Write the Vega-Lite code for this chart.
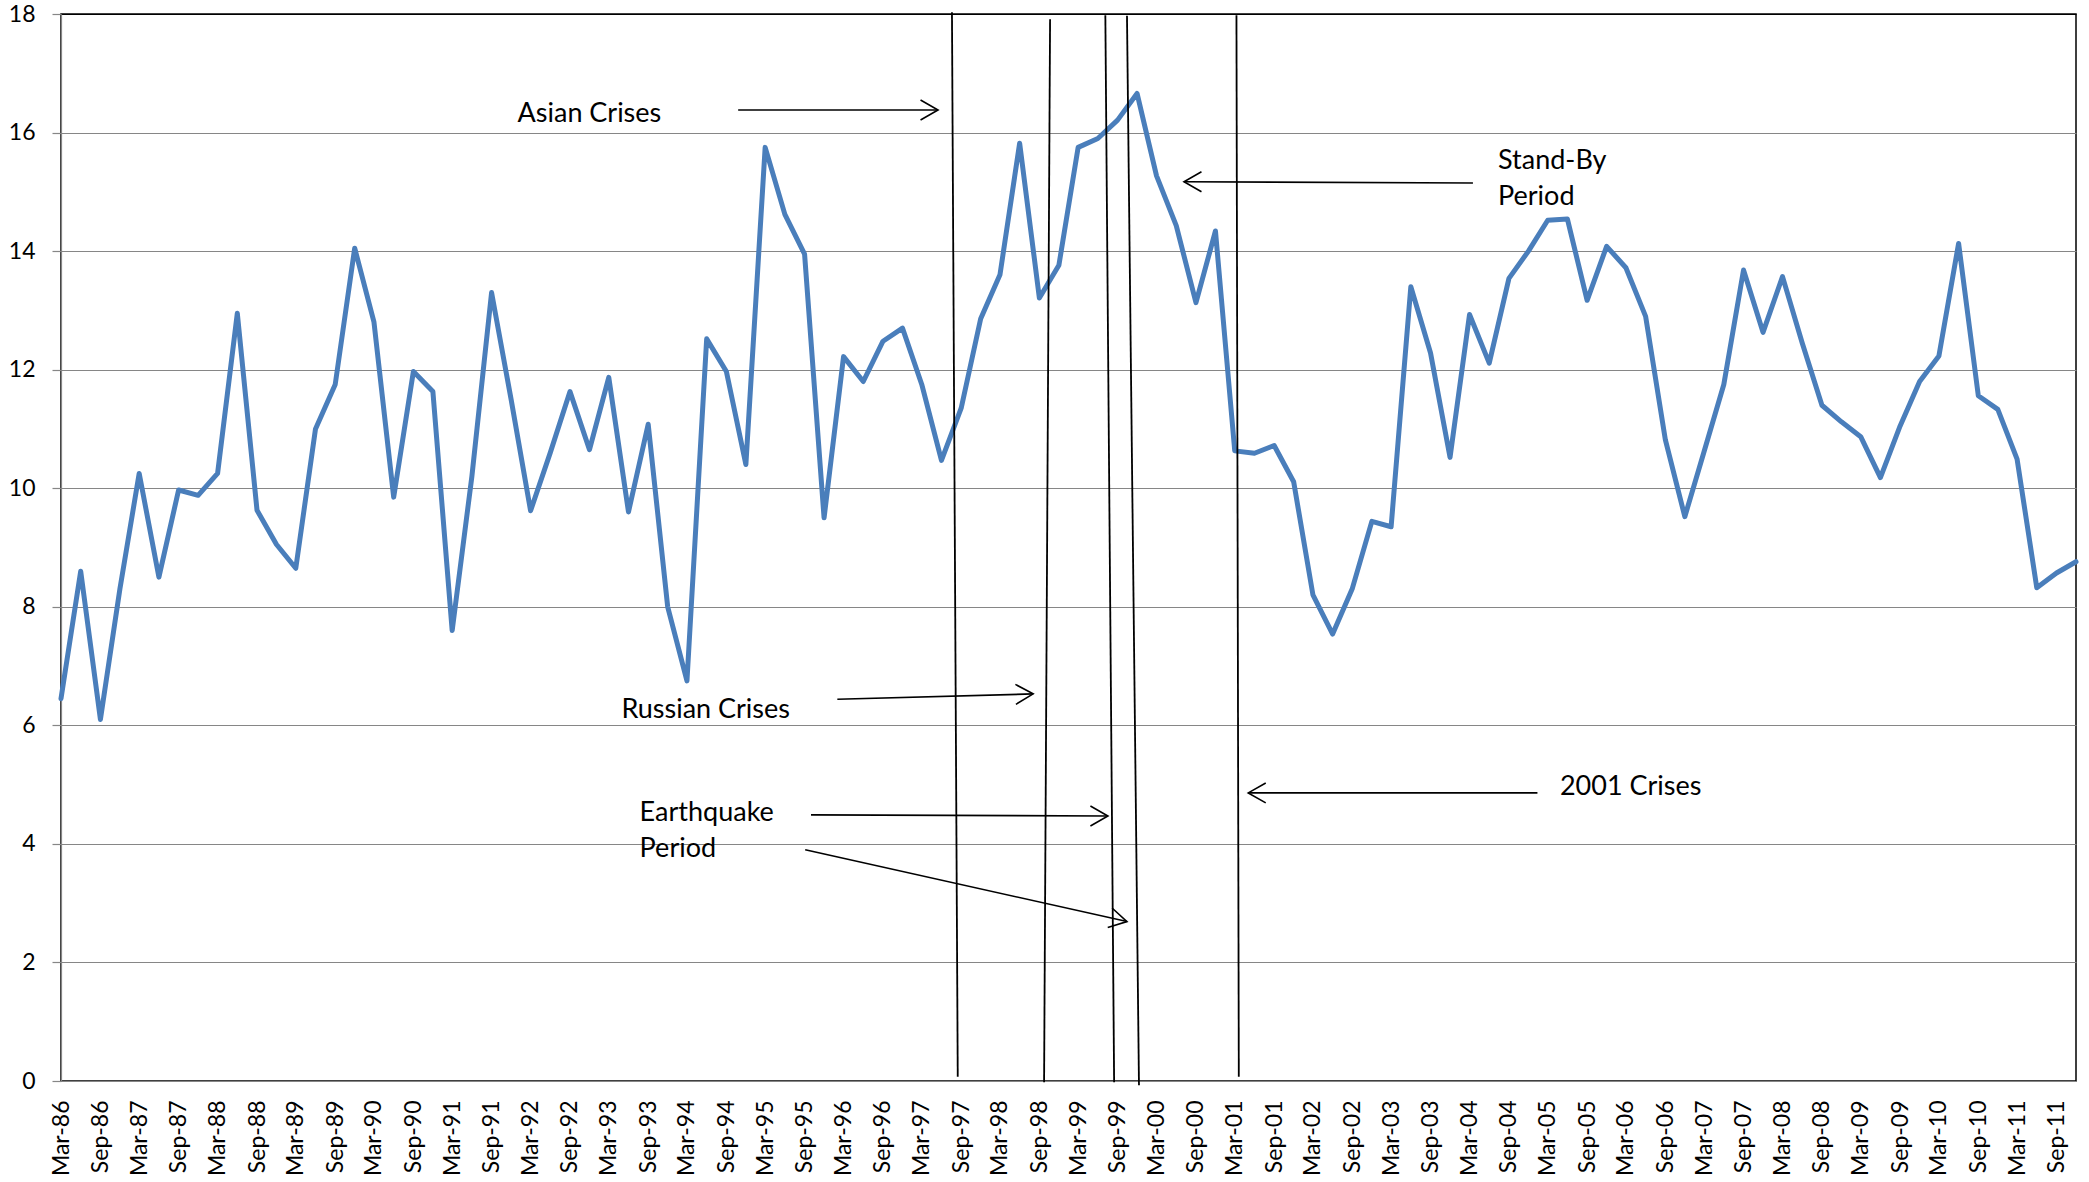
{
  "$schema": "https://vega.github.io/schema/vega-lite/v6.json",
  "width": 2015,
  "height": 1067,
  "autosize": "none",
  "padding": {"left": 61, "top": 14, "right": 13, "bottom": 101},
  "background": "white",
  "config": {
    "font": "Lato",
    "view": {"stroke": "black", "strokeWidth": 1.5},
    "axis": {"labelOverlap": false, "labelFlush": false, "labelBound": false, "labelColor": "black", "labelFontSize": 23, "domainColor": "#868686", "domainWidth": 1.2},
    "axisX": {"labelAngle": -90, "labelAlign": "right", "labelBaseline": "middle", "labelPadding": 19, "ticks": false, "tickSize": 0, "grid": false},
    "axisY": {"labelPadding": 17, "tickSize": 9, "tickColor": "#868686", "tickWidth": 1.2, "grid": true, "gridWidth": 1.2, "gridOpacity": 1}
  },
  "datasets": {
    "series": [
      {"date": "1986-03-01", "value": 6.45}, {"date": "1986-06-01", "value": 8.6}, {"date": "1986-09-01", "value": 6.1}, {"date": "1986-12-01", "value": 8.3},
      {"date": "1987-03-01", "value": 10.25}, {"date": "1987-06-01", "value": 8.5}, {"date": "1987-09-01", "value": 9.97}, {"date": "1987-12-01", "value": 9.88},
      {"date": "1988-03-01", "value": 10.25}, {"date": "1988-06-01", "value": 12.95}, {"date": "1988-09-01", "value": 9.63}, {"date": "1988-12-01", "value": 9.05},
      {"date": "1989-03-01", "value": 8.65}, {"date": "1989-06-01", "value": 11.0}, {"date": "1989-09-01", "value": 11.75}, {"date": "1989-12-01", "value": 14.05},
      {"date": "1990-03-01", "value": 12.8}, {"date": "1990-06-01", "value": 9.85}, {"date": "1990-09-01", "value": 11.97}, {"date": "1990-12-01", "value": 11.63},
      {"date": "1991-03-01", "value": 7.6}, {"date": "1991-06-01", "value": 10.2}, {"date": "1991-09-01", "value": 13.3}, {"date": "1991-12-01", "value": 11.5},
      {"date": "1992-03-01", "value": 9.62}, {"date": "1992-06-01", "value": 10.6}, {"date": "1992-09-01", "value": 11.63}, {"date": "1992-12-01", "value": 10.65},
      {"date": "1993-03-01", "value": 11.87}, {"date": "1993-06-01", "value": 9.6}, {"date": "1993-09-01", "value": 11.08}, {"date": "1993-12-01", "value": 8.0},
      {"date": "1994-03-01", "value": 6.75}, {"date": "1994-06-01", "value": 12.52}, {"date": "1994-09-01", "value": 11.97}, {"date": "1994-12-01", "value": 10.4},
      {"date": "1995-03-01", "value": 15.75}, {"date": "1995-06-01", "value": 14.62}, {"date": "1995-09-01", "value": 13.95}, {"date": "1995-12-01", "value": 9.5},
      {"date": "1996-03-01", "value": 12.22}, {"date": "1996-06-01", "value": 11.8}, {"date": "1996-09-01", "value": 12.48}, {"date": "1996-12-01", "value": 12.7},
      {"date": "1997-03-01", "value": 11.75}, {"date": "1997-06-01", "value": 10.47}, {"date": "1997-09-01", "value": 11.35}, {"date": "1997-12-01", "value": 12.86},
      {"date": "1998-03-01", "value": 13.6}, {"date": "1998-06-01", "value": 15.82}, {"date": "1998-09-01", "value": 13.21}, {"date": "1998-12-01", "value": 13.76},
      {"date": "1999-03-01", "value": 15.75}, {"date": "1999-06-01", "value": 15.9}, {"date": "1999-09-01", "value": 16.21}, {"date": "1999-12-01", "value": 16.66},
      {"date": "2000-03-01", "value": 15.27}, {"date": "2000-06-01", "value": 14.43}, {"date": "2000-09-01", "value": 13.13}, {"date": "2000-12-01", "value": 14.34},
      {"date": "2001-03-01", "value": 10.63}, {"date": "2001-06-01", "value": 10.59}, {"date": "2001-09-01", "value": 10.72}, {"date": "2001-12-01", "value": 10.11},
      {"date": "2002-03-01", "value": 8.2}, {"date": "2002-06-01", "value": 7.54}, {"date": "2002-09-01", "value": 8.31}, {"date": "2002-12-01", "value": 9.44},
      {"date": "2003-03-01", "value": 9.35}, {"date": "2003-06-01", "value": 13.4}, {"date": "2003-09-01", "value": 12.28}, {"date": "2003-12-01", "value": 10.52},
      {"date": "2004-03-01", "value": 12.93}, {"date": "2004-06-01", "value": 12.11}, {"date": "2004-09-01", "value": 13.54}, {"date": "2004-12-01", "value": 14.0},
      {"date": "2005-03-01", "value": 14.52}, {"date": "2005-06-01", "value": 14.54}, {"date": "2005-09-01", "value": 13.17}, {"date": "2005-12-01", "value": 14.08},
      {"date": "2006-03-01", "value": 13.72}, {"date": "2006-06-01", "value": 12.9}, {"date": "2006-09-01", "value": 10.82}, {"date": "2006-12-01", "value": 9.52},
      {"date": "2007-03-01", "value": 10.62}, {"date": "2007-06-01", "value": 11.75}, {"date": "2007-09-01", "value": 13.68}, {"date": "2007-12-01", "value": 12.63},
      {"date": "2008-03-01", "value": 13.57}, {"date": "2008-06-01", "value": 12.45}, {"date": "2008-09-01", "value": 11.4}, {"date": "2008-12-01", "value": 11.12},
      {"date": "2009-03-01", "value": 10.87}, {"date": "2009-06-01", "value": 10.18}, {"date": "2009-09-01", "value": 11.05}, {"date": "2009-12-01", "value": 11.8},
      {"date": "2010-03-01", "value": 12.23}, {"date": "2010-06-01", "value": 14.13}, {"date": "2010-09-01", "value": 11.56}, {"date": "2010-12-01", "value": 11.33},
      {"date": "2011-03-01", "value": 10.49}, {"date": "2011-06-01", "value": 8.32}, {"date": "2011-09-01", "value": 8.57}, {"date": "2011-12-01", "value": 8.76}
    ],
    "crisisLines": [
      {"event": "Asian Crises", "top": "1997-07-20", "bottom": "1997-08-16", "high": 18.03, "low": 0.07},
      {"event": "Russian Crises", "top": "1998-10-21", "bottom": "1998-09-23", "high": 17.91, "low": -0.02},
      {"event": "Earthquake start", "top": "1999-07-06", "bottom": "1999-08-16", "high": 17.98, "low": -0.02},
      {"event": "Earthquake end", "top": "1999-10-15", "bottom": "1999-12-10", "high": 17.97, "low": -0.07},
      {"event": "2001 Crises", "top": "2001-03-09", "bottom": "2001-03-20", "high": 17.98, "low": 0.07}
    ],
    "arrows": [
      {"from": "1994-10-26", "fromValue": 16.38, "to": "1997-05-16", "toValue": 16.38, "heading": 0},
      {"from": "2004-03-17", "fromValue": 15.15, "to": "2000-07-07", "toValue": 15.17, "heading": 180},
      {"from": "1996-02-01", "fromValue": 6.44, "to": "1998-08-03", "toValue": 6.53, "heading": -1.5},
      {"from": "1995-10-01", "fromValue": 4.49, "to": "1999-07-18", "toValue": 4.47, "heading": 0},
      {"from": "1995-09-04", "fromValue": 3.9, "to": "1999-10-15", "toValue": 2.69, "heading": 12.5},
      {"from": "2005-01-12", "fromValue": 4.86, "to": "2001-05-03", "toValue": 4.86, "heading": 180}
    ],
    "notes": [
      {"date": "1991-12-31", "value": 16.18, "text": "Asian Crises"},
      {"date": "2004-07-12", "value": 15.38, "text": "Stand-By\nPeriod"},
      {"date": "1993-04-29", "value": 6.13, "text": "Russian Crises"},
      {"date": "1993-07-23", "value": 4.39, "text": "Earthquake\nPeriod"},
      {"date": "2005-04-27", "value": 4.82, "text": "2001 Crises"}
    ]
  },
  "layer": [
    {
      "data": {"name": "series"},
      "mark": {"type": "line", "color": "#4A7EBB", "strokeWidth": 5, "strokeJoin": "round", "strokeCap": "round"},
      "encoding": {
        "x": {
          "field": "date",
          "type": "temporal",
          "title": null,
          "scale": {"domain": [{"year": 1986, "month": 3, "date": 1}, {"year": 2011, "month": 12, "date": 1}], "nice": false},
          "axis": {
            "format": "%b-%y",
            "labelOverlap": false,
            "tickCount": 120,
            "values": [
              {"year": 1986, "month": 3}, {"year": 1986, "month": 9}, {"year": 1987, "month": 3}, {"year": 1987, "month": 9},
              {"year": 1988, "month": 3}, {"year": 1988, "month": 9}, {"year": 1989, "month": 3}, {"year": 1989, "month": 9},
              {"year": 1990, "month": 3}, {"year": 1990, "month": 9}, {"year": 1991, "month": 3}, {"year": 1991, "month": 9},
              {"year": 1992, "month": 3}, {"year": 1992, "month": 9}, {"year": 1993, "month": 3}, {"year": 1993, "month": 9},
              {"year": 1994, "month": 3}, {"year": 1994, "month": 9}, {"year": 1995, "month": 3}, {"year": 1995, "month": 9},
              {"year": 1996, "month": 3}, {"year": 1996, "month": 9}, {"year": 1997, "month": 3}, {"year": 1997, "month": 9},
              {"year": 1998, "month": 3}, {"year": 1998, "month": 9}, {"year": 1999, "month": 3}, {"year": 1999, "month": 9},
              {"year": 2000, "month": 3}, {"year": 2000, "month": 9}, {"year": 2001, "month": 3}, {"year": 2001, "month": 9},
              {"year": 2002, "month": 3}, {"year": 2002, "month": 9}, {"year": 2003, "month": 3}, {"year": 2003, "month": 9},
              {"year": 2004, "month": 3}, {"year": 2004, "month": 9}, {"year": 2005, "month": 3}, {"year": 2005, "month": 9},
              {"year": 2006, "month": 3}, {"year": 2006, "month": 9}, {"year": 2007, "month": 3}, {"year": 2007, "month": 9},
              {"year": 2008, "month": 3}, {"year": 2008, "month": 9}, {"year": 2009, "month": 3}, {"year": 2009, "month": 9},
              {"year": 2010, "month": 3}, {"year": 2010, "month": 9}, {"year": 2011, "month": 3}, {"year": 2011, "month": 9}
            ]
          }
        },
        "y": {
          "field": "value",
          "type": "quantitative",
          "title": null,
          "scale": {"domain": [0, 18], "nice": false},
          "axis": {
            "format": "d",
            "values": [0, 2, 4, 6, 8, 10, 12, 14, 16, 18],
            "gridColor": {"condition": {"test": "datum.value == 18", "value": "black"}, "value": "#868686"}
          }
        }
      }
    },
    {
      "data": {"name": "crisisLines"},
      "mark": {"type": "rule", "color": "black", "strokeWidth": 1.8},
      "encoding": {
        "x": {"field": "top", "type": "temporal", "title": null},
        "x2": {"field": "bottom"},
        "y": {"field": "high", "type": "quantitative", "title": null},
        "y2": {"field": "low"}
      }
    },
    {
      "data": {"name": "arrows"},
      "mark": {"type": "rule", "color": "black", "strokeWidth": 1.6},
      "encoding": {
        "x": {"field": "from", "type": "temporal", "title": null},
        "x2": {"field": "to"},
        "y": {"field": "fromValue", "type": "quantitative", "title": null},
        "y2": {"field": "toValue"}
      }
    },
    {
      "data": {"name": "arrows"},
      "mark": {"type": "point", "shape": "M -1 -0.57 L 0 0 L -1 0.57", "filled": false, "color": "black", "strokeWidth": 1.6, "opacity": 1, "size": 1225},
      "encoding": {
        "x": {"field": "to", "type": "temporal", "title": null},
        "y": {"field": "toValue", "type": "quantitative", "title": null},
        "angle": {"field": "heading", "type": "quantitative", "scale": null}
      }
    },
    {
      "data": {"name": "notes"},
      "mark": {"type": "text", "align": "left", "baseline": "alphabetic", "fontSize": 27, "color": "black", "lineBreak": "\n", "lineHeight": 36},
      "encoding": {
        "x": {"field": "date", "type": "temporal", "title": null},
        "y": {"field": "value", "type": "quantitative", "title": null},
        "text": {"field": "text"}
      }
    }
  ]
}
